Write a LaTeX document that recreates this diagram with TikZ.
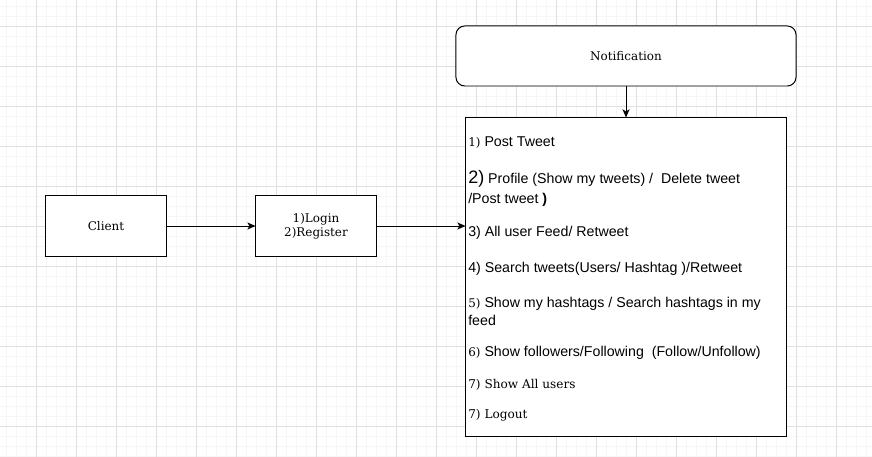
\documentclass[tikz,border=0pt]{standalone}
\usepackage{fontspec}
\setmainfont{DejaVu Serif}
\newfontfamily\arialfont{Liberation Sans}
\usetikzlibrary{arrows}
\usetikzlibrary{arrows.meta}
\usetikzlibrary{positioning}
\definecolor{gridmajor}{RGB}{224,224,224}
\definecolor{gridminor}{RGB}{246,246,246}
\tikzset{box/.style={draw=black, line width=0.7pt, fill=white, minimum width=3cm, minimum height=1.5cm, font=\fontsize{8.5}{10}\selectfont, align=center},
	item/.style={anchor=west, inner sep=0pt, align=left, font=\arialfont\fontsize{10.1}{14.2}\selectfont}}
\newcommand{\serifnum}[1]{{\rmfamily\fontsize{8.5}{10}\selectfont #1}}

\begin{document}
\begin{tikzpicture}[x=0.025cm, y=-0.025cm, >={Stealth[length=5.8pt,width=5pt,inset=1.5pt]}]
		\useasboundingbox (0,0) rectangle (872,457);
		% background grid
		\foreach \x in {6,16,...,866} \draw[gridminor, line width=0.5pt] (\x,0) -- (\x,457);
		\foreach \y in {6,16,...,456} \draw[gridminor, line width=0.5pt] (0,\y) -- (872,\y);
		\foreach \x in {36,76,...,836} \draw[gridmajor, line width=0.6pt] (\x,0) -- (\x,457);
		\foreach \y in {26,66,...,426} \draw[gridmajor, line width=0.6pt] (0,\y) -- (872,\y);
		\node[style=box] (A) at (106,226) {Client};
		\node[style=box] (B) at (316,226) {1)Login\\2)Register};
		\node[style=box, minimum width=8.5cm, rounded corners=0.22cm] (C) at (626,56) {Notification};
		\node[style=box, minimum width=8cm, minimum height=7.95cm] (D) at (626,277) {};
		\node[style=item] (T1) at (468,143) {\serifnum{1)} Post Tweet};
		\node[style=item] (T2) at (468,188) {{\fontsize{12.8}{14.2}\selectfont 2)} Profile (Show my tweets) /~~Delete tweet\\/Post tweet \textbf{)}};
		\node[style=item] (T3) at (468,233) {3) All user Feed/ Retweet};
		\node[style=item] (T4) at (468,269) {4) Search tweets(Users/ Hashtag )/Retweet};
		\node[style=item, font=\arialfont\fontsize{10.1}{12.8}\selectfont] (T5) at (468,311) {\serifnum{5)} Show my hashtags / Search hashtags in my\\feed};
		\node[style=item] (T6) at (468,353) {\serifnum{6)} Show followers/Following~~(Follow/Unfollow)};
		\node[style=item, font=\fontsize{8.6}{10}\selectfont] (T7) at (468,385) {7) Show All users};
		\node[style=item, font=\fontsize{8.6}{10}\selectfont] (T8) at (468,415) {7) Logout};
		\path [->, line width=0.7pt] (A) edge (B);
		\path [->, line width=0.7pt] (B) edge (B -| D.west);
		\path [->, line width=0.7pt] (C) edge (D);
	\end{tikzpicture}
\end{document}
